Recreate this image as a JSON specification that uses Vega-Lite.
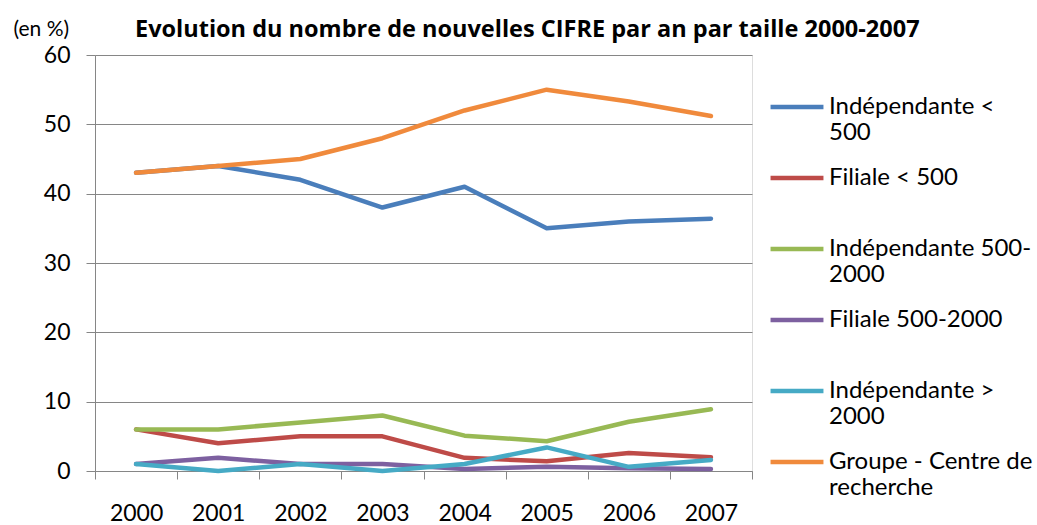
{
  "$schema": "https://vega.github.io/schema/vega-lite/v6.json",
  "width": 657,
  "height": 416,
  "autosize": {"type": "none"},
  "padding": {"left": 95, "top": 55, "right": 285, "bottom": 54},
  "background": "white",
  "title": {
    "text": "Evolution du nombre de nouvelles CIFRE par an par taille 2000-2007",
    "anchor": "start",
    "frame": "group",
    "dx": 40,
    "dy": 42,
    "offset": 0,
    "baseline": "alphabetic",
    "font": "Open Sans",
    "fontSize": 23.5,
    "fontWeight": "bold",
    "color": "#000000"
  },
  "data": {
    "values": [
      {"year": "2000", "series": "Indépendante < 500", "value": 43},
      {"year": "2001", "series": "Indépendante < 500", "value": 44},
      {"year": "2002", "series": "Indépendante < 500", "value": 42},
      {"year": "2003", "series": "Indépendante < 500", "value": 38},
      {"year": "2004", "series": "Indépendante < 500", "value": 41},
      {"year": "2005", "series": "Indépendante < 500", "value": 35},
      {"year": "2006", "series": "Indépendante < 500", "value": 36},
      {"year": "2007", "series": "Indépendante < 500", "value": 36.4},
      {"year": "2000", "series": "Filiale < 500", "value": 6},
      {"year": "2001", "series": "Filiale < 500", "value": 4},
      {"year": "2002", "series": "Filiale < 500", "value": 5},
      {"year": "2003", "series": "Filiale < 500", "value": 5},
      {"year": "2004", "series": "Filiale < 500", "value": 1.9},
      {"year": "2005", "series": "Filiale < 500", "value": 1.4},
      {"year": "2006", "series": "Filiale < 500", "value": 2.6},
      {"year": "2007", "series": "Filiale < 500", "value": 2.0},
      {"year": "2000", "series": "Indépendante 500-2000", "value": 6},
      {"year": "2001", "series": "Indépendante 500-2000", "value": 6},
      {"year": "2002", "series": "Indépendante 500-2000", "value": 7},
      {"year": "2003", "series": "Indépendante 500-2000", "value": 8},
      {"year": "2004", "series": "Indépendante 500-2000", "value": 5.1},
      {"year": "2005", "series": "Indépendante 500-2000", "value": 4.3},
      {"year": "2006", "series": "Indépendante 500-2000", "value": 7.1},
      {"year": "2007", "series": "Indépendante 500-2000", "value": 8.9},
      {"year": "2000", "series": "Filiale 500-2000", "value": 1},
      {"year": "2001", "series": "Filiale 500-2000", "value": 1.9},
      {"year": "2002", "series": "Filiale 500-2000", "value": 1},
      {"year": "2003", "series": "Filiale 500-2000", "value": 1},
      {"year": "2004", "series": "Filiale 500-2000", "value": 0.3},
      {"year": "2005", "series": "Filiale 500-2000", "value": 0.6},
      {"year": "2006", "series": "Filiale 500-2000", "value": 0.4},
      {"year": "2007", "series": "Filiale 500-2000", "value": 0.3},
      {"year": "2000", "series": "Indépendante > 2000", "value": 1},
      {"year": "2001", "series": "Indépendante > 2000", "value": 0},
      {"year": "2002", "series": "Indépendante > 2000", "value": 1},
      {"year": "2003", "series": "Indépendante > 2000", "value": 0},
      {"year": "2004", "series": "Indépendante > 2000", "value": 1},
      {"year": "2005", "series": "Indépendante > 2000", "value": 3.4},
      {"year": "2006", "series": "Indépendante > 2000", "value": 0.6},
      {"year": "2007", "series": "Indépendante > 2000", "value": 1.6},
      {"year": "2000", "series": "Groupe - Centre de recherche", "value": 43},
      {"year": "2001", "series": "Groupe - Centre de recherche", "value": 44},
      {"year": "2002", "series": "Groupe - Centre de recherche", "value": 45},
      {"year": "2003", "series": "Groupe - Centre de recherche", "value": 48},
      {"year": "2004", "series": "Groupe - Centre de recherche", "value": 52},
      {"year": "2005", "series": "Groupe - Centre de recherche", "value": 55},
      {"year": "2006", "series": "Groupe - Centre de recherche", "value": 53.3},
      {"year": "2007", "series": "Groupe - Centre de recherche", "value": 51.2}
    ]
  },
  "mark": {"type": "line", "strokeWidth": 4.5, "strokeCap": "round", "strokeJoin": "round"},
  "encoding": {
    "x": {
      "field": "year",
      "type": "ordinal",
      "scale": {"type": "band", "paddingInner": 0, "paddingOuter": 0},
      "axis": {
        "title": null,
        "labelAngle": 0,
        "tickBand": "extent",
        "tickSize": 8,
        "tickColor": "#868686",
        "domainColor": "#868686",
        "labelPadding": 23,
        "labelFont": "Lato",
        "labelFontSize": 23,
        "labelColor": "#000000",
        "grid": false
      }
    },
    "y": {
      "field": "value",
      "type": "quantitative",
      "scale": {"domain": [0, 60], "nice": false},
      "axis": {
        "values": [0, 10, 20, 30, 40, 50, 60],
        "title": "(en %)",
        "titleAngle": 0,
        "titleX": -82,
        "titleY": -26,
        "titleAlign": "left",
        "titleBaseline": "middle",
        "titleFont": "Lato",
        "titleFontSize": 21,
        "titleFontWeight": "normal",
        "titleColor": "#000000",
        "tickSize": 9,
        "tickColor": "#868686",
        "domainColor": "#868686",
        "gridColor": "#868686",
        "labelPadding": 16,
        "labelFont": "Lato",
        "labelFontSize": 23,
        "labelColor": "#000000"
      }
    },
    "color": {
      "field": "series",
      "type": "nominal",
      "scale": {
        "domain": ["Indépendante < 500", "Filiale < 500", "Indépendante 500-2000", "Filiale 500-2000", "Indépendante > 2000", "Groupe - Centre de recherche"],
        "range": ["#4A7EBB", "#BE4B48", "#98B954", "#7D60A0", "#46AAC5", "#F08A3C"]
      },
      "legend": {
        "title": null,
        "orient": "none",
        "legendX": 673,
        "legendY": 23,
        "padding": 0,
        "symbolType": "stroke",
        "symbolSize": 2800,
        "symbolStrokeWidth": 4.5,
        "labelFont": "Lato",
        "labelFontSize": 24,
        "labelColor": "#000000",
        "labelLimit": 400,
        "labelOffset": 3,
        "labelLineHeight": 33,
        "labelBaseline": "middle",
        "rowPadding": 4,
        "labelExpr": "datum.label == 'Indépendante < 500' ? ['Indépendante <', '500'] : datum.label == 'Filiale < 500' ? ['Filiale < 500', ''] : datum.label == 'Indépendante 500-2000' ? ['Indépendante 500-', '2000'] : datum.label == 'Filiale 500-2000' ? ['Filiale 500-2000', ''] : datum.label == 'Indépendante > 2000' ? ['Indépendante >', '2000'] : ['Groupe - Centre de', 'recherche']"
      }
    }
  }
}
